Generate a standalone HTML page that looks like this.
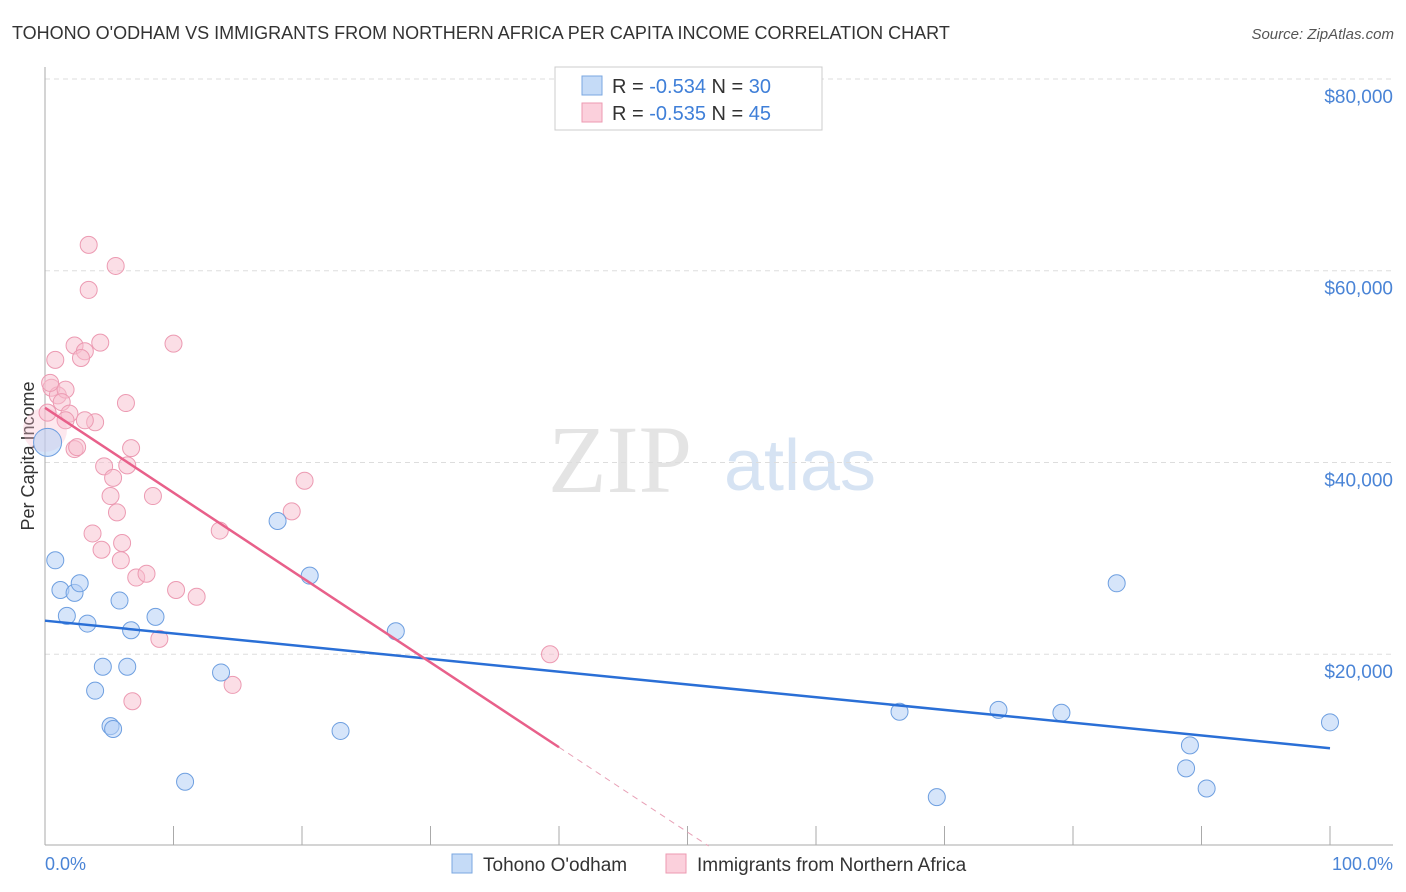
<!DOCTYPE html>
<html><head><meta charset="utf-8"><style>
body{margin:0;background:#fff;font-family:"Liberation Sans",sans-serif;}
#wrap{position:relative;width:1406px;height:892px;overflow:hidden;}
</style></head><body>
<div id="wrap">
<svg id="chart" width="1406" height="892" xmlns="http://www.w3.org/2000/svg">
<text x="12" y="39" font-size="18" fill="#333">TOHONO O'ODHAM VS IMMIGRANTS FROM NORTHERN AFRICA PER CAPITA INCOME CORRELATION CHART</text>
<text x="1394" y="39" font-size="15" fill="#555" font-style="italic" text-anchor="end">Source: ZipAtlas.com</text>
<text x="620" y="492" font-size="96" fill="#e4e4e4" font-family="Liberation Serif,serif" text-anchor="middle">ZIP</text>
<text x="800" y="490" font-size="72" fill="#d6e3f3" text-anchor="middle">atlas</text>
<g id="grid"></g>
<line x1="45" y1="67" x2="45" y2="845" stroke="#aaa"/>
<line x1="45" y1="845" x2="1393" y2="845" stroke="#aaa"/>
<text transform="translate(34,456) rotate(-90)" font-size="18" fill="#333" text-anchor="middle">Per Capita Income</text>
<text x="45" y="870" font-size="18" fill="#4a84d6">0.0%</text>
<text x="1393" y="870" font-size="18" fill="#4a84d6" text-anchor="end">100.0%</text>
<g id="pts"></g>
<g id="lines"></g>
<g>
<rect x="555" y="67" width="267" height="63" fill="#fff" stroke="#ccc"/>
<rect x="582" y="76" width="20" height="19" fill="#c5dbf7" stroke="#7aa7e0"/>
<text x="612" y="93" font-size="20" fill="#333">R = <tspan fill="#3f7fd8">-0.534</tspan>    N = <tspan fill="#3f7fd8">30</tspan></text>
<rect x="582" y="103" width="20" height="19" fill="#fbd0dc" stroke="#ec9ab2"/>
<text x="612" y="120" font-size="20" fill="#333">R = <tspan fill="#3f7fd8">-0.535</tspan>    N = <tspan fill="#3f7fd8">45</tspan></text>
</g>
<g>
<rect x="452" y="854" width="20" height="19" fill="#c5dbf7" stroke="#7aa7e0"/>
<text x="483" y="871" font-size="19" fill="#333">Tohono O'odham</text>
<rect x="666" y="854" width="20" height="19" fill="#fbd0dc" stroke="#ec9ab2"/>
<text x="697" y="871" font-size="19" fill="#333">Immigrants from Northern Africa</text>
</g>
</svg>
</div>
<script>
const yTicks=[20000,40000,60000,80000];
const yTickLabels=["$20,000","$40,000","$60,000","$80,000"];
const xTicks=[0,10,20,30,40,50,60,70,80,90,100];
const blueX=[0.2,0.8,1.2,2.3,2.7,1.7,3.3,5.8,6.7,8.6,4.5,6.4,3.9,5.1,5.3,10.9,13.7,18.1,20.6,23.0,27.3,66.5,69.4,74.2,79.1,83.4,89.1,88.8,90.4,100];
const blueY=[42100,29800,26700,26400,27400,24000,23200,25600,22500,23900,18700,18700,16200,12500,12200,6700,18100,33900,28200,12000,22400,14000,5100,14200,13900,27400,10500,8100,6000,12900];
const blueR=[14,8.5,8.5,8.5,8.5,8.5,8.5,8.5,8.5,8.5,8.5,8.5,8.5,8.5,8.5,8.5,8.5,8.5,8.5,8.5,8.5,8.5,8.5,8.5,8.5,8.5,8.5,8.5,8.5,8.5];
const pinkX=[3.4,5.5,3.4,2.3,3.1,4.3,10.0,2.8,0.8,0.5,1.0,1.6,0.4,1.3,1.9,1.6,3.9,6.3,3.1,2.3,2.5,6.7,4.6,6.4,5.3,5.1,8.4,20.2,19.2,5.6,3.7,13.6,4.4,6.0,5.9,7.1,7.9,10.2,11.8,8.9,39.3,14.6,6.8,0,0.2];
const pinkY=[62700,60500,58000,52200,51600,52500,52400,50900,50700,47800,47000,47600,48300,46300,45100,44400,44200,46200,44400,41400,41600,41500,39600,39700,38400,36500,36500,38100,34900,34800,32600,32900,30900,31600,29800,28000,28400,26700,26000,21600,20000,16800,15100,43400,45200];
const blueLine=[23500,10200]; // value at 0% and 100%
const pinkLine=[45700,-885];  // intercept, slope per %
const pinkSolidEnd=40;
const NS="http://www.w3.org/2000/svg";
const X=v=>45+v*12.85;
const Y=v=>846-v/104.3;
function mk(t,a,p){const e=document.createElementNS(NS,t);for(const k in a)e.setAttribute(k,a[k]);p.appendChild(e);return e;}
const grid=document.getElementById('grid');
yTicks.forEach((t,i)=>{
  const l=mk('line',{x1:45,x2:1393,y1:Y(t),y2:Y(t),stroke:'#ddd','stroke-dasharray':'5,4'},grid);
  
  
  const tx=mk('text',{x:1393,y:Y(t)+24,'font-size':19,fill:'#4a84d6','text-anchor':'end'},grid);
  tx.textContent=yTickLabels[i];
  
  
});
mk('line',{x1:45,x2:1393,y1:79,y2:79,stroke:'#ddd','stroke-dasharray':'5,4'},grid);
xTicks.forEach(t=>{
  const l=mk('line',{x1:X(t),x2:X(t),y1:826,y2:845,stroke:'#aaa'},grid);
  
  
});
const pts=document.getElementById('pts');
pinkX.forEach((x,i)=>{
  const big=i===pinkX.length-2;
  const c=mk('circle',{cx:X(x),cy:Y(pinkY[i]),r:big?22:8.5,fill:big?'rgba(248,190,206,0.35)':'rgba(248,190,206,0.5)',stroke:big?'none':'#ec9ab2','stroke-width':1},pts);
  
  
});
blueX.forEach((x,i)=>{
  const c=mk('circle',{cx:X(x),cy:Y(blueY[i]),r:blueR[i],fill:'rgba(180,208,245,0.55)',stroke:'#6e9fe0','stroke-width':1},pts);
  
  
});
const lines=document.getElementById('lines');
const bl=mk('line',{x1:X(0),y1:Y(blueLine[0]),x2:X(100),y2:Y(blueLine[1]),stroke:'#2a6fd6','stroke-width':2.5},lines);


const pe=-pinkLine[0]/pinkLine[1];
const pl=mk('line',{x1:X(0),y1:Y(pinkLine[0]),x2:X(pinkSolidEnd),y2:Y(pinkLine[0]+pinkLine[1]*pinkSolidEnd),stroke:'#e8608a','stroke-width':2.5},lines);


const pd=mk('line',{x1:X(pinkSolidEnd),y1:Y(pinkLine[0]+pinkLine[1]*pinkSolidEnd),x2:X(pe),y2:Y(0),stroke:'#e8a0b6','stroke-width':1,'stroke-dasharray':'6,5'},lines);


</script>
</body></html>
